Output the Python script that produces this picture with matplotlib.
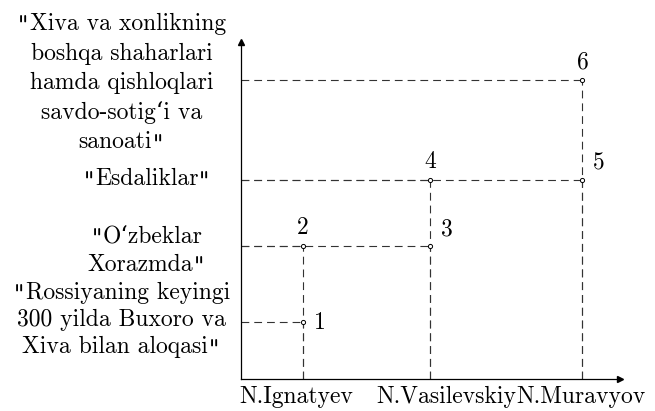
import matplotlib
matplotlib.use("Agg")
import matplotlib.pyplot as plt
from matplotlib.offsetbox import TextArea, HPacker, VPacker, AnnotationBbox

plt.rcParams['font.family'] = ['cmr10', 'DejaVu Serif']
plt.rcParams['axes.formatter.use_mathtext'] = True

# authors on x, books on y
authors = ['N.Ignatyev', 'N.Vasilevskiy', 'N.Muravyov']
author_x = [1.0, 3.05, 5.5]
author_label_x = [0.89, 3.3, 5.48]

books = [
    '"Rossiyaning keyingi\n300 yilda Buxoro va\nXiva bilan aloqasi"',
    '"O‘zbeklar\nXorazmda"',
    '"Esdaliklar"',
    '"Xiva va xonlikning\nboshqa shaharlari\nhamda qishloqlari\nsavdo-sotig‘i va\nsanoati"',
]
book_y = [1.7, 4.0, 6.0, 9.0]
book_sep = [3.4, 4.0, 3.0, 5.0]
book_dx = [-86, -68, -68, -86]
book_dy = [1.5, -3.5, 0, -2.5]

# points: (author index, book index, label)
pt_author = [0, 0, 1, 1, 2, 2]
pt_book = [0, 1, 1, 2, 2, 3]
pt_label = ['1', '2', '3', '4', '5', '6']
# label placement: 'r' right, 'u' above, 'ru' right-above
pt_pos = ['r', 'u', 'ru', 'u', 'ru', 'u']

FS = 17
txt_props = dict(fontsize=FS)
q_props = dict(fontsize=FS, family='cmtt10')  # straight quote like T1 cm


def book_box(s):
    # cmr10 draws " as a curly quote, so quotes go in a tt font
    rows = []
    for line in s.split('\n'):
        parts = []
        if line.startswith('"'):
            parts.append(TextArea('"', textprops=q_props))
            line = line[1:]
        tail = line.endswith('"')
        if tail:
            line = line[:-1]
        parts.append(TextArea(line, textprops=txt_props))
        if tail:
            parts.append(TextArea('"', textprops=q_props))
        rows.append(HPacker(children=parts, sep=0, pad=0, align='baseline'))
    return rows


fig = plt.figure(figsize=(6.55, 4.11), dpi=100)
ax = fig.add_axes([0.368, 0.078, 0.579, 0.82])
ax.set_xlim(0, 6.11)
ax.set_ylim(0, 10.15)

for sp in ['top', 'right']:
    ax.spines[sp].set_visible(False)
for sp in ['left', 'bottom']:
    ax.spines[sp].set_linewidth(0.9)

# arrow heads
ax.plot(1, 0, '>k', ms=5, transform=ax.get_yaxis_transform(), clip_on=False)
ax.plot(0, 1, '^k', ms=5, transform=ax.get_xaxis_transform(), clip_on=False)

dash = (0, (7, 4.5))
for a, b, lab, pos in zip(pt_author, pt_book, pt_label, pt_pos):
    x = author_x[a]
    y = book_y[b]
    ax.plot([0, x], [y, y], color='#333333', lw=0.8, ls=dash)
    ax.plot([x, x], [0, y], color='#333333', lw=0.8, ls=dash)
    ax.plot(x, y, 'o', ms=3, mfc='white', mec='black', mew=0.7, zorder=5)
    if pos == 'r':
        off = (12, 0)
    elif pos == 'u':
        off = (0, 13)
    else:
        off = (12, 12)
    ax.annotate(lab, (x, y), xytext=off, textcoords='offset points',
                ha='center', va='center', fontsize=FS)

ax.set_xticks(author_label_x)
ax.set_xticklabels(authors, fontsize=FS)
ax.set_yticks(book_y)
ax.set_yticklabels([])
for y, s, sep, dx, dy in zip(book_y, books, book_sep, book_dx, book_dy):
    box = VPacker(children=book_box(s), sep=sep, pad=0, align='center')
    ab = AnnotationBbox(box, (0, y), xybox=(dx, dy), boxcoords='offset points',
                        frameon=False, box_alignment=(0.5, 0.5),
                        annotation_clip=False)
    ax.add_artist(ab)
ax.tick_params(length=0, pad=5)

plt.savefig('out.png', dpi=100)
